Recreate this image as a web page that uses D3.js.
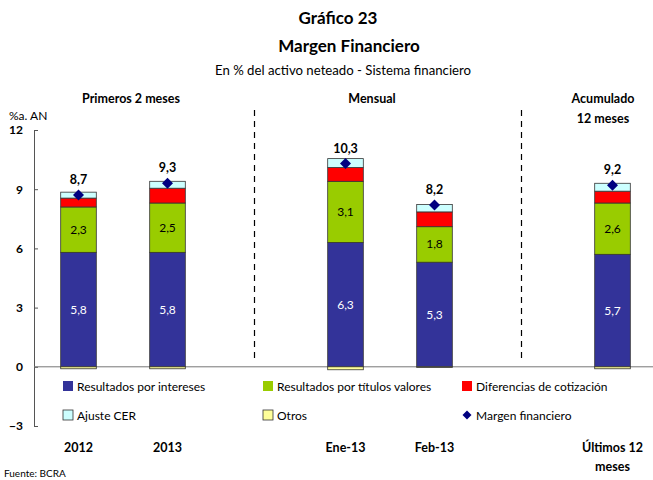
<!DOCTYPE html>
<html>
<head>
<meta charset="utf-8">
<script src="https://d3js.org/d3.v7.min.js"></script>
<style>
html, body { margin: 0; background: #fff; }
svg { display: block; font-family: 'Lato', sans-serif; }
</style>
</head>
<body>
<script>
// datos
var categorias = ["2012", "2013", "gap1", "Ene-13", "Feb-13", "gap2", "Ultimos"];
var barras = ["2012", "2013", "Ene-13", "Feb-13", "Ultimos"];
var etiquetasX = ["2012", "2013", "", "Ene-13", "Feb-13", "", "Últimos 12|meses"];
var intereses  = [5.8, 5.8, 6.3, 5.3, 5.7];
var titulos    = [2.3, 2.5, 3.1, 1.8, 2.6];
var cotizacion = [0.45, 0.75, 0.7, 0.75, 0.6];
var cer        = [0.3, 0.35, 0.45, 0.37, 0.4];
var otros      = [-0.1, -0.1, -0.15, -0.03, -0.1];
var margen     = [8.7, 9.3, 10.3, 8.2, 9.2];
var yTicks = [-3, 0, 3, 6, 9, 12];

var series = [
  {key: "intereses", name: "Resultados por intereses", color: "#333399", vals: intereses},
  {key: "titulos", name: "Resultados por títulos valores", color: "#99cc00", vals: titulos},
  {key: "cotizacion", name: "Diferencias de cotización", color: "#ff0000", vals: cotizacion},
  {key: "cer", name: "Ajuste CER", color: "#ccffff", vals: cer},
  {key: "otros", name: "Otros", color: "#ffff99", vals: otros}
];

var width = 653, height = 480;
var svg = d3.select("body").append("svg").attr("width", width).attr("height", height);

var x = d3.scaleBand().domain(categorias).range([34, 657]).paddingInner(0.6).paddingOuter(0.3);
var y = d3.scaleLinear().domain([-3, 12]).range([426, 130]);

// rombo cuadrado girado
function rombo(r) { return "M0," + (-r) + "L" + r + ",0L0," + r + "L" + (-r) + ",0Z"; }

// titulos
svg.append("text").attr("x", 338).attr("y", 24).attr("text-anchor", "middle")
  .attr("font-size", 17).attr("font-weight", "bold").text("Gráfico 23");
svg.append("text").attr("x", 349).attr("y", 52).attr("text-anchor", "middle")
  .attr("font-size", 17).attr("font-weight", "bold").text("Margen Financiero");
svg.append("text").attr("x", 343).attr("y", 75).attr("text-anchor", "middle")
  .attr("font-size", 13.2).text("En % del activo neteado - Sistema financiero");

var secciones = [
  {t: "Primeros 2 meses", x: 131, y: 103},
  {t: "Mensual", x: 372, y: 103},
  {t: "Acumulado", x: 603, y: 103},
  {t: "12 meses", x: 603, y: 123}
];
svg.selectAll(".sec").data(secciones).enter().append("text")
  .attr("x", d => d.x).attr("y", d => d.y).attr("text-anchor", "middle")
  .attr("font-size", 12.5).attr("font-weight", "bold").text(d => d.t);

svg.append("text").attr("x", 9).attr("y", 120).attr("font-size", 12).text("%a. AN");

// eje y
var yAxis = d3.axisLeft(y).tickValues(yTicks).tickSize(-4).tickFormat(d3.format("d"));
var gy = svg.append("g").attr("transform", "translate(34,0)").call(yAxis);
gy.select(".domain").attr("stroke", "#555");
gy.selectAll(".tick line").attr("stroke", "#555");
gy.selectAll(".tick text").attr("x", -11).attr("font-size", 12).attr("font-weight", "bold")
  .attr("font-family", "Lato, sans-serif").attr("fill", "#000");

// separadores
[categorias[2], categorias[5]].forEach(function(c) {
  var cx = x(c) + x.bandwidth() / 2 - 2;
  svg.append("line").attr("x1", cx).attr("x2", cx).attr("y1", 110).attr("y2", 362)
    .attr("stroke", "#000").attr("stroke-width", 1.2).attr("stroke-dasharray", "6,5");
});

// linea cero
svg.append("line").attr("x1", 34).attr("x2", width).attr("y1", y(0)).attr("y2", y(0))
  .attr("stroke", "#777").attr("stroke-width", 1);

// barras apiladas
var tabla = barras.map(function(b, i) {
  var o = {cat: b};
  series.forEach(function(s) { o[s.key] = s.vals[i]; });
  return o;
});
var stack = d3.stack().keys(series.map(s => s.key)).offset(d3.stackOffsetDiverging);
var capas = stack(tabla);

svg.selectAll(".capa").data(capas).enter().append("g")
  .attr("fill", (d, i) => series[i].color)
  .selectAll("rect").data(d => d).enter().append("rect")
  .attr("x", d => x(d.data.cat))
  .attr("width", x.bandwidth())
  .attr("y", d => y(Math.max(d[0], d[1])))
  .attr("height", d => Math.abs(y(d[0]) - y(d[1])))
  .attr("stroke", "#333").attr("stroke-width", 0.8);

// etiquetas de valores
svg.selectAll(".lblI").data(capas[0]).enter().append("text")
  .attr("x", d => x(d.data.cat) + x.bandwidth() / 2)
  .attr("y", d => y((d[0] + d[1]) / 2) + 4)
  .attr("text-anchor", "middle").attr("font-size", 12).attr("fill", "#fff")
  .text(d => d3.format(".1f")(d[1] - d[0]).replace(".", ","));
svg.selectAll(".lblT").data(capas[1]).enter().append("text")
  .attr("x", d => x(d.data.cat) + x.bandwidth() / 2)
  .attr("y", d => y((d[0] + d[1]) / 2) + 4)
  .attr("text-anchor", "middle").attr("font-size", 12).attr("fill", "#000")
  .text(d => d3.format(".1f")(d[1] - d[0]).replace(".", ","));

// margen financiero
svg.selectAll(".mf").data(margen).enter().append("path")
  .attr("d", rombo(5.5))
  .attr("transform", (d, i) => "translate(" + (x(barras[i]) + x.bandwidth() / 2) + "," + y(d) + ")")
  .attr("fill", "#000080");
svg.selectAll(".mfl").data(margen).enter().append("text")
  .attr("x", (d, i) => x(barras[i]) + x.bandwidth() / 2)
  .attr("y", d => y(d) - 11)
  .attr("text-anchor", "middle").attr("font-size", 12.5).attr("font-weight", "bold")
  .text(d => d3.format(".1f")(d).replace(".", ","));

// leyenda
var leyenda = [
  {n: series[0].name, c: series[0].color, x: 63, y: 386},
  {n: series[1].name, c: series[1].color, x: 263, y: 386},
  {n: series[2].name, c: series[2].color, x: 462, y: 386},
  {n: series[3].name, c: series[3].color, x: 63, y: 415},
  {n: series[4].name, c: series[4].color, x: 263, y: 415},
  {n: "Margen financiero", c: "#000080", x: 462, y: 415, diam: true}
];
var lg = svg.selectAll(".lg").data(leyenda).enter().append("g")
  .attr("transform", d => "translate(" + d.x + "," + d.y + ")");
lg.filter(d => !d.diam).append("rect")
  .attr("x", 0).attr("y", -5).attr("width", 10).attr("height", 10)
  .attr("fill", d => d.c).attr("stroke", d => (d.c === "#ccffff" || d.c === "#ffff99") ? "#333" : "none")
  .attr("stroke-width", 0.8);
lg.filter(d => d.diam).append("path")
  .attr("d", rombo(4.5))
  .attr("transform", "translate(5,0)").attr("fill", d => d.c);
lg.append("text").attr("x", 14).attr("y", 4.5).attr("font-size", 12).text(d => d.n);

// etiquetas x
etiquetasX.forEach(function(t, i) {
  if (!t) return;
  var cx = x(categorias[i]) + x.bandwidth() / 2;
  t.split("|").forEach(function(l, j) {
    svg.append("text").attr("x", cx).attr("y", 452 + j * 19).attr("text-anchor", "middle")
      .attr("font-size", 12.5).attr("font-weight", "bold").text(l);
  });
});

svg.append("text").attr("x", 4).attr("y", 477).attr("font-size", 10).text("Fuente: BCRA");
</script>
</body>
</html>
